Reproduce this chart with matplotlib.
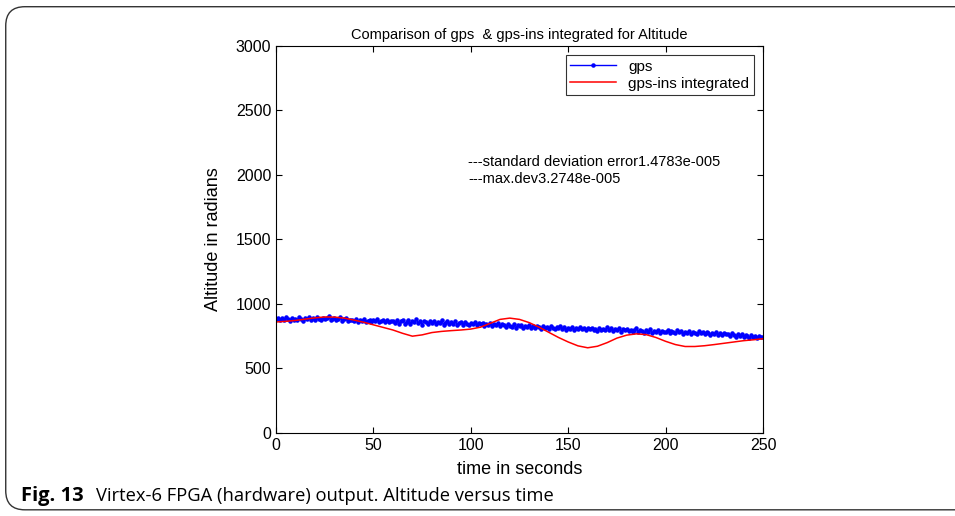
import numpy as np
import matplotlib.pyplot as plt
from matplotlib.patches import FancyBboxPatch

# gps samples, one per second
gps_alt = [
    880, 893, 872, 889, 878, 896, 884, 870, 891, 879,
    886, 874, 897, 881, 869, 890, 883, 895, 876, 888,
    879, 900, 885, 872, 894, 881, 889, 903, 877, 886,
    892, 874, 884, 897, 870, 882, 889, 866, 879, 874,
    868, 881, 858, 873, 866, 884, 862, 871, 878, 860,
    874, 865, 880, 857, 869, 876, 862, 873, 858, 870,
    864, 851, 872, 846, 867, 879, 843, 862, 874, 848,
    869, 857, 883, 850, 866, 839, 871, 858, 845, 866,
    852, 870, 844, 861, 849, 873, 838, 855, 864, 842,
    858, 847, 866, 838, 854, 862, 840, 857, 848, 835,
    852, 843, 860, 836, 849, 841, 856, 832, 847, 838,
    851, 829, 844, 836, 853, 826, 842, 834, 818, 845,
    830, 822, 841, 815, 833, 826, 838, 812, 829, 821,
    835, 817, 826, 810, 831, 819, 806, 828, 814, 822,
    809, 826, 815, 803, 820, 811, 825, 806, 818, 800,
    816, 808, 821, 799, 813, 805, 819, 802, 811, 796,
    812, 804, 817, 798, 809, 793, 814, 801, 807, 795,
    822, 801, 810, 790, 806, 798, 813, 785, 803, 796,
    808, 788, 800, 779, 795, 812, 784, 799, 790, 776,
    796, 783, 804, 772, 791, 785, 799, 778, 793, 786,
    780, 797, 775, 790, 783, 771, 794, 779, 787, 768,
    785, 774, 791, 770, 782, 776, 764, 788, 772, 780,
    766, 783, 771, 759, 777, 768, 785, 762, 774, 757,
    775, 763, 769, 752, 771, 760, 747, 766, 755, 763,
    746, 760, 751, 738, 757, 744, 752, 736, 748, 741,
    745,
]
gps_t = list(range(len(gps_alt)))

# integrated solution, every 5 s
ins_t = list(range(0, 251, 5))
ins_alt = [
    860, 865, 872, 882, 892, 899, 898, 890, 875, 858,
    838, 818, 798, 772, 750, 760, 778, 787, 793, 798,
    805, 820, 850, 880, 890, 880, 855, 820, 780, 740,
    705, 675, 660, 672, 700, 735, 758, 768, 762, 740,
    710, 685, 670, 670, 676, 685, 695, 705, 715, 722,
    730,
]

plt.rcParams['font.family'] = ['Liberation Sans', 'DejaVu Sans']

fig = plt.figure(figsize=(9.55, 5.16), dpi=100)

# rounded frame around the figure
frame = FancyBboxPatch((0.006, 0.012), 1.05, 0.975, boxstyle="round,pad=0,rounding_size=0.02",
                       transform=fig.transFigure, fill=False, edgecolor='#333333', linewidth=1.0,
                       mutation_aspect=955 / 516)
fig.patches.append(frame)

ax = fig.add_axes([0.289, 0.161, 0.510, 0.750])
ax.plot(gps_t, gps_alt, color='blue', marker='.', markersize=4.5, linewidth=1.0, label='gps')
ax.plot(ins_t, ins_alt, color='red', linewidth=1.1, label='gps-ins integrated')

ax.set_xlim(0, 250)
ax.set_ylim(0, 3000)
ax.set_xticks(range(0, 251, 50))
ax.set_yticks(range(0, 3001, 500))
ax.tick_params(direction='in', top=True, right=True, labelsize=11.5, length=4)
for s in ax.spines.values():
    s.set_linewidth(0.8)

ax.set_title('Comparison of gps  & gps-ins integrated for Altitude', fontsize=10.5, pad=5)
ax.set_xlabel('time in seconds', fontsize=13, labelpad=6)
ax.set_ylabel('Altitude in radians', fontsize=13, labelpad=10)

ax.text(98.5, 2100, '---standard deviation error1.4783e-005', fontsize=10.5, va='center')
ax.text(98.5, 1965, '---max.dev3.2748e-005', fontsize=10.5, va='center')

leg = ax.legend(loc='upper right', fontsize=11, fancybox=False, edgecolor='black',
                borderaxespad=0.6, handlelength=3, labelspacing=0.2, borderpad=0.3)
leg.get_frame().set_linewidth(0.8)

fig.text(0.022, 0.038, 'Fig. 13', fontsize=14.5, fontweight='bold', family=['Open Sans', 'DejaVu Sans'],
         va='center')
fig.text(0.101, 0.038, 'Virtex-6 FPGA (hardware) output. Altitude versus time', fontsize=13.2,
         family=['Open Sans', 'DejaVu Sans'], va='center')

fig.savefig('out.png', dpi=100)
